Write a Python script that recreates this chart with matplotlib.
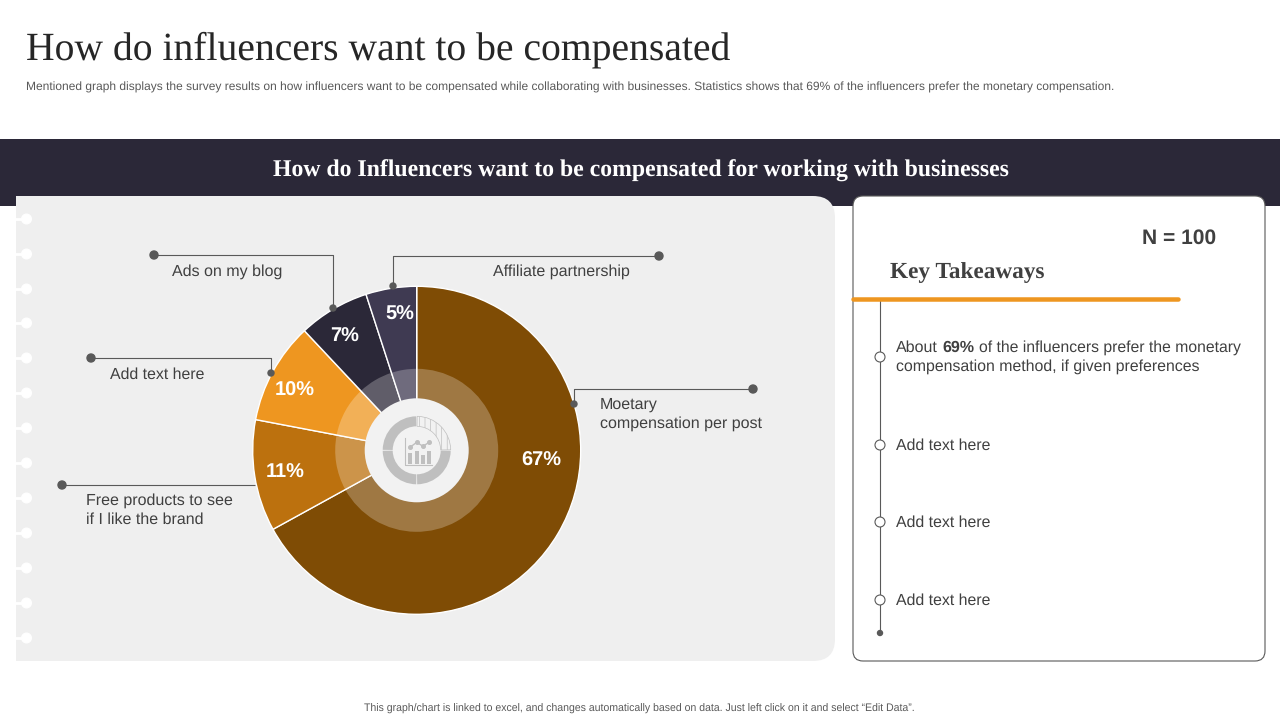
# Survey slide: how influencers want to be compensated
import matplotlib
matplotlib.use("Agg")
import matplotlib.pyplot as plt
from matplotlib.patches import Circle, FancyBboxPatch, Rectangle, Wedge

plt.rcParams["text.hinting"] = "no_hinting"
plt.rcParams["hatch.linewidth"] = 0.5

W, H = 1280, 720
PX = 0.72  # px to pt at dpi 100

DARK = "#2B2838"
ORANGE = "#EE9620"
TEXT = "#404040"
LINE = "#595959"
PANEL = "#EFEFEF"
ICON = "#BFBFBF"
SANS = "Liberation Sans"
SERIF = "Liberation Serif"

# chart data, clockwise from the top
shares = [67, 11, 10, 7, 5]
share_colors = ["#7F4C05", "#BC710E", "#EE9620", "#2B2838", "#3F3A52"]
share_labels = ["67%", "11%", "10%", "7%", "5%"]
label_pos = [(541, 461), (285, 473), (295, 391), (345, 337), (400, 315)]

takeaway_rows = [445, 522, 600]
takeaway_text = ["Add text here", "Add text here", "Add text here"]
hole_rows = [219, 254, 289, 323, 358, 393, 428, 463, 498, 533, 568, 603, 638]
icon_x = [-6.7, 0, 6.3, 12.3]
icon_bars = [11, 13, 9, 13]
icon_line = [3, 8, 4, 8]

CX, CY, R = 416.7, 450.3, 164

fig = plt.figure(figsize=(W / 100, H / 100), dpi=100, facecolor="white")
ax = fig.add_axes([0, 0, 1, 1])
ax.set_xlim(0, W)
ax.set_ylim(H, 0)
ax.axis("off")

# callouts sit over the donut
top_ax = fig.add_axes([0, 0, 1, 1], zorder=3)
top_ax.set_xlim(0, W)
top_ax.set_ylim(H, 0)
top_ax.axis("off")


def label(x, y, s, size=16, color=TEXT, weight="normal", family=SANS, ha="left", va="center"):
    ax.text(x, y + 1.5, s, fontsize=size * PX, color=color, fontweight=weight, family=family, ha=ha, va=va)


def connector(points, end_r=3):
    xs, ys = zip(*points)
    top_ax.plot(xs, ys, color=LINE, lw=0.8, solid_capstyle="butt")
    top_ax.add_patch(Circle(points[0], 4, color=LINE))
    if end_r:
        top_ax.add_patch(Circle(points[-1], end_r, color=LINE))


# header
label(26, 48, "How do influencers want to be compensated", size=39.6, color="#262626", family=SERIF)
label(26, 86, "Mentioned graph displays the survey results on how influencers want to be compensated while "
              "collaborating with businesses. Statistics shows that 69% of the influencers prefer the "
              "monetary compensation.", size=12, color="#595959")
ax.add_patch(Rectangle((0, 139), W, 67, color=DARK, lw=0))
label(641, 169, "How do Influencers want to be compensated for working with businesses",
      size=23.8, color="white", weight="bold", family=SERIF, ha="center")

# left panel, square on the hole side
ax.add_patch(FancyBboxPatch((40, 196), 795, 465, boxstyle="round,pad=0,rounding_size=22", fc=PANEL, ec="none"))
ax.add_patch(Rectangle((16, 196), 60, 465, fc=PANEL, ec="none"))
for y in hole_rows:
    ax.plot([16, 26], [y, y], color="white", lw=2, zorder=2)
    ax.add_patch(Circle((26.5, y), 4.8, color="white", zorder=2))

# right panel
ax.add_patch(FancyBboxPatch((853, 196), 412, 465, boxstyle="round,pad=0,rounding_size=10",
                            fc="white", ec=LINE, lw=0.8))
label(1179, 237, "N = 100", size=21, weight="bold", ha="center")
label(890, 271, "Key Takeaways", size=23.2, weight="bold", family=SERIF)
ax.plot([853, 1178], [299, 299], color=ORANGE, lw=4.5 * PX, solid_capstyle="round", zorder=3)

ax.plot([880, 880], [301, 633], color=LINE, lw=0.8, zorder=2)
ax.add_patch(Circle((880, 633), 2.5, color=LINE, zorder=3))
for y in [357] + takeaway_rows:
    ax.add_patch(Circle((880, y), 5, fc="white", ec=LINE, lw=0.8, zorder=3))
label(896, 346.5, "About")
label(942, 346.5, "69%", weight="bold")
label(979, 346.5, "of the influencers prefer the monetary", size=15.75)
label(896, 365.5, "compensation method, if given preferences", size=15.9)
for y, s in zip(takeaway_rows, takeaway_text):
    label(896, y - 1, s, size=15.85)

# donut, in its own axes so the pie keeps its scale
pie_ax = fig.add_axes([(CX - R) / W, 1 - (CY + R) / H, 2 * R / W, 2 * R / H])
pie_ax.set_zorder(2)
_, _, autotexts = pie_ax.pie(shares, colors=share_colors, startangle=90, counterclock=False, radius=1,
                             autopct=lambda p: "", wedgeprops=dict(edgecolor="white", linewidth=1))
for t, s, (x, y) in zip(autotexts, share_labels, label_pos):
    t.set_text(s)
    t.set_position(((x - CX) / R, -(y - CY) / R))
    t.set_color("white")
    t.set_fontsize(20 * PX)
    t.set_fontweight("bold")
    t.set_family(SANS)
pie_ax.pie(shares, colors=[(1, 1, 1, 0.25)] * len(shares), startangle=90, counterclock=False, radius=81.5 / R,
           wedgeprops=dict(edgecolor="none"))
pie_ax.add_patch(Circle((0, 0), 52 / R, fc="#F2F2F2", ec="none", zorder=5))

# hub icon: broken ring, chart glyph
for a, b in [(90.8, 179.2), (180.8, 269.2), (270.8, 359.2)]:
    pie_ax.add_patch(Wedge((0, 0), 34 / R, a, b, width=10 / R, fc=ICON, ec="none", zorder=6))
pie_ax.add_patch(Wedge((0, 0), 34 / R, 0.8, 89.2, width=10 / R, fc="none", ec=ICON, lw=0.5, hatch="|||", zorder=6))
pie_ax.plot([-11.5 / R, -11.5 / R, 15 / R], [12.5 / R, -15 / R, -15 / R], color=ICON, lw=0.8, zorder=6)
for x, v in zip(icon_x, icon_bars):
    pie_ax.add_patch(Rectangle(((x - 2) / R, -14 / R), 4 / R, v / R, fc=ICON, ec="none", zorder=6))
pie_ax.plot([x / R for x in icon_x], [v / R for v in icon_line], color=ICON, lw=1, marker="o", ms=2.6, zorder=6)
pie_ax.set_xlim(-1, 1)
pie_ax.set_ylim(-1, 1)

# callouts
connector([(154, 255), (333, 255), (333, 308)])
label(172, 270, "Ads on my blog")
connector([(659, 256), (393, 256), (393, 286)])
label(493, 270.5, "Affiliate partnership")
connector([(91, 358), (271, 358), (271, 373)])
label(110, 373, "Add text here", size=15.85)
connector([(62, 485), (255, 485)], end_r=0)
label(86, 499.5, "Free products to see")
label(86, 518.5, "if I like the brand")
connector([(753, 389), (574, 389), (574, 404)])
label(600, 403, "Moetary")
label(600, 422, "compensation per post")

label(639, 707.5, "This graph/chart is linked to excel, and changes automatically based on data. "
                  "Just left click on it and select \u201cEdit Data\u201d.", size=10.55, color="#595959", ha="center")

fig.savefig("out.png", dpi=100, facecolor="white")
